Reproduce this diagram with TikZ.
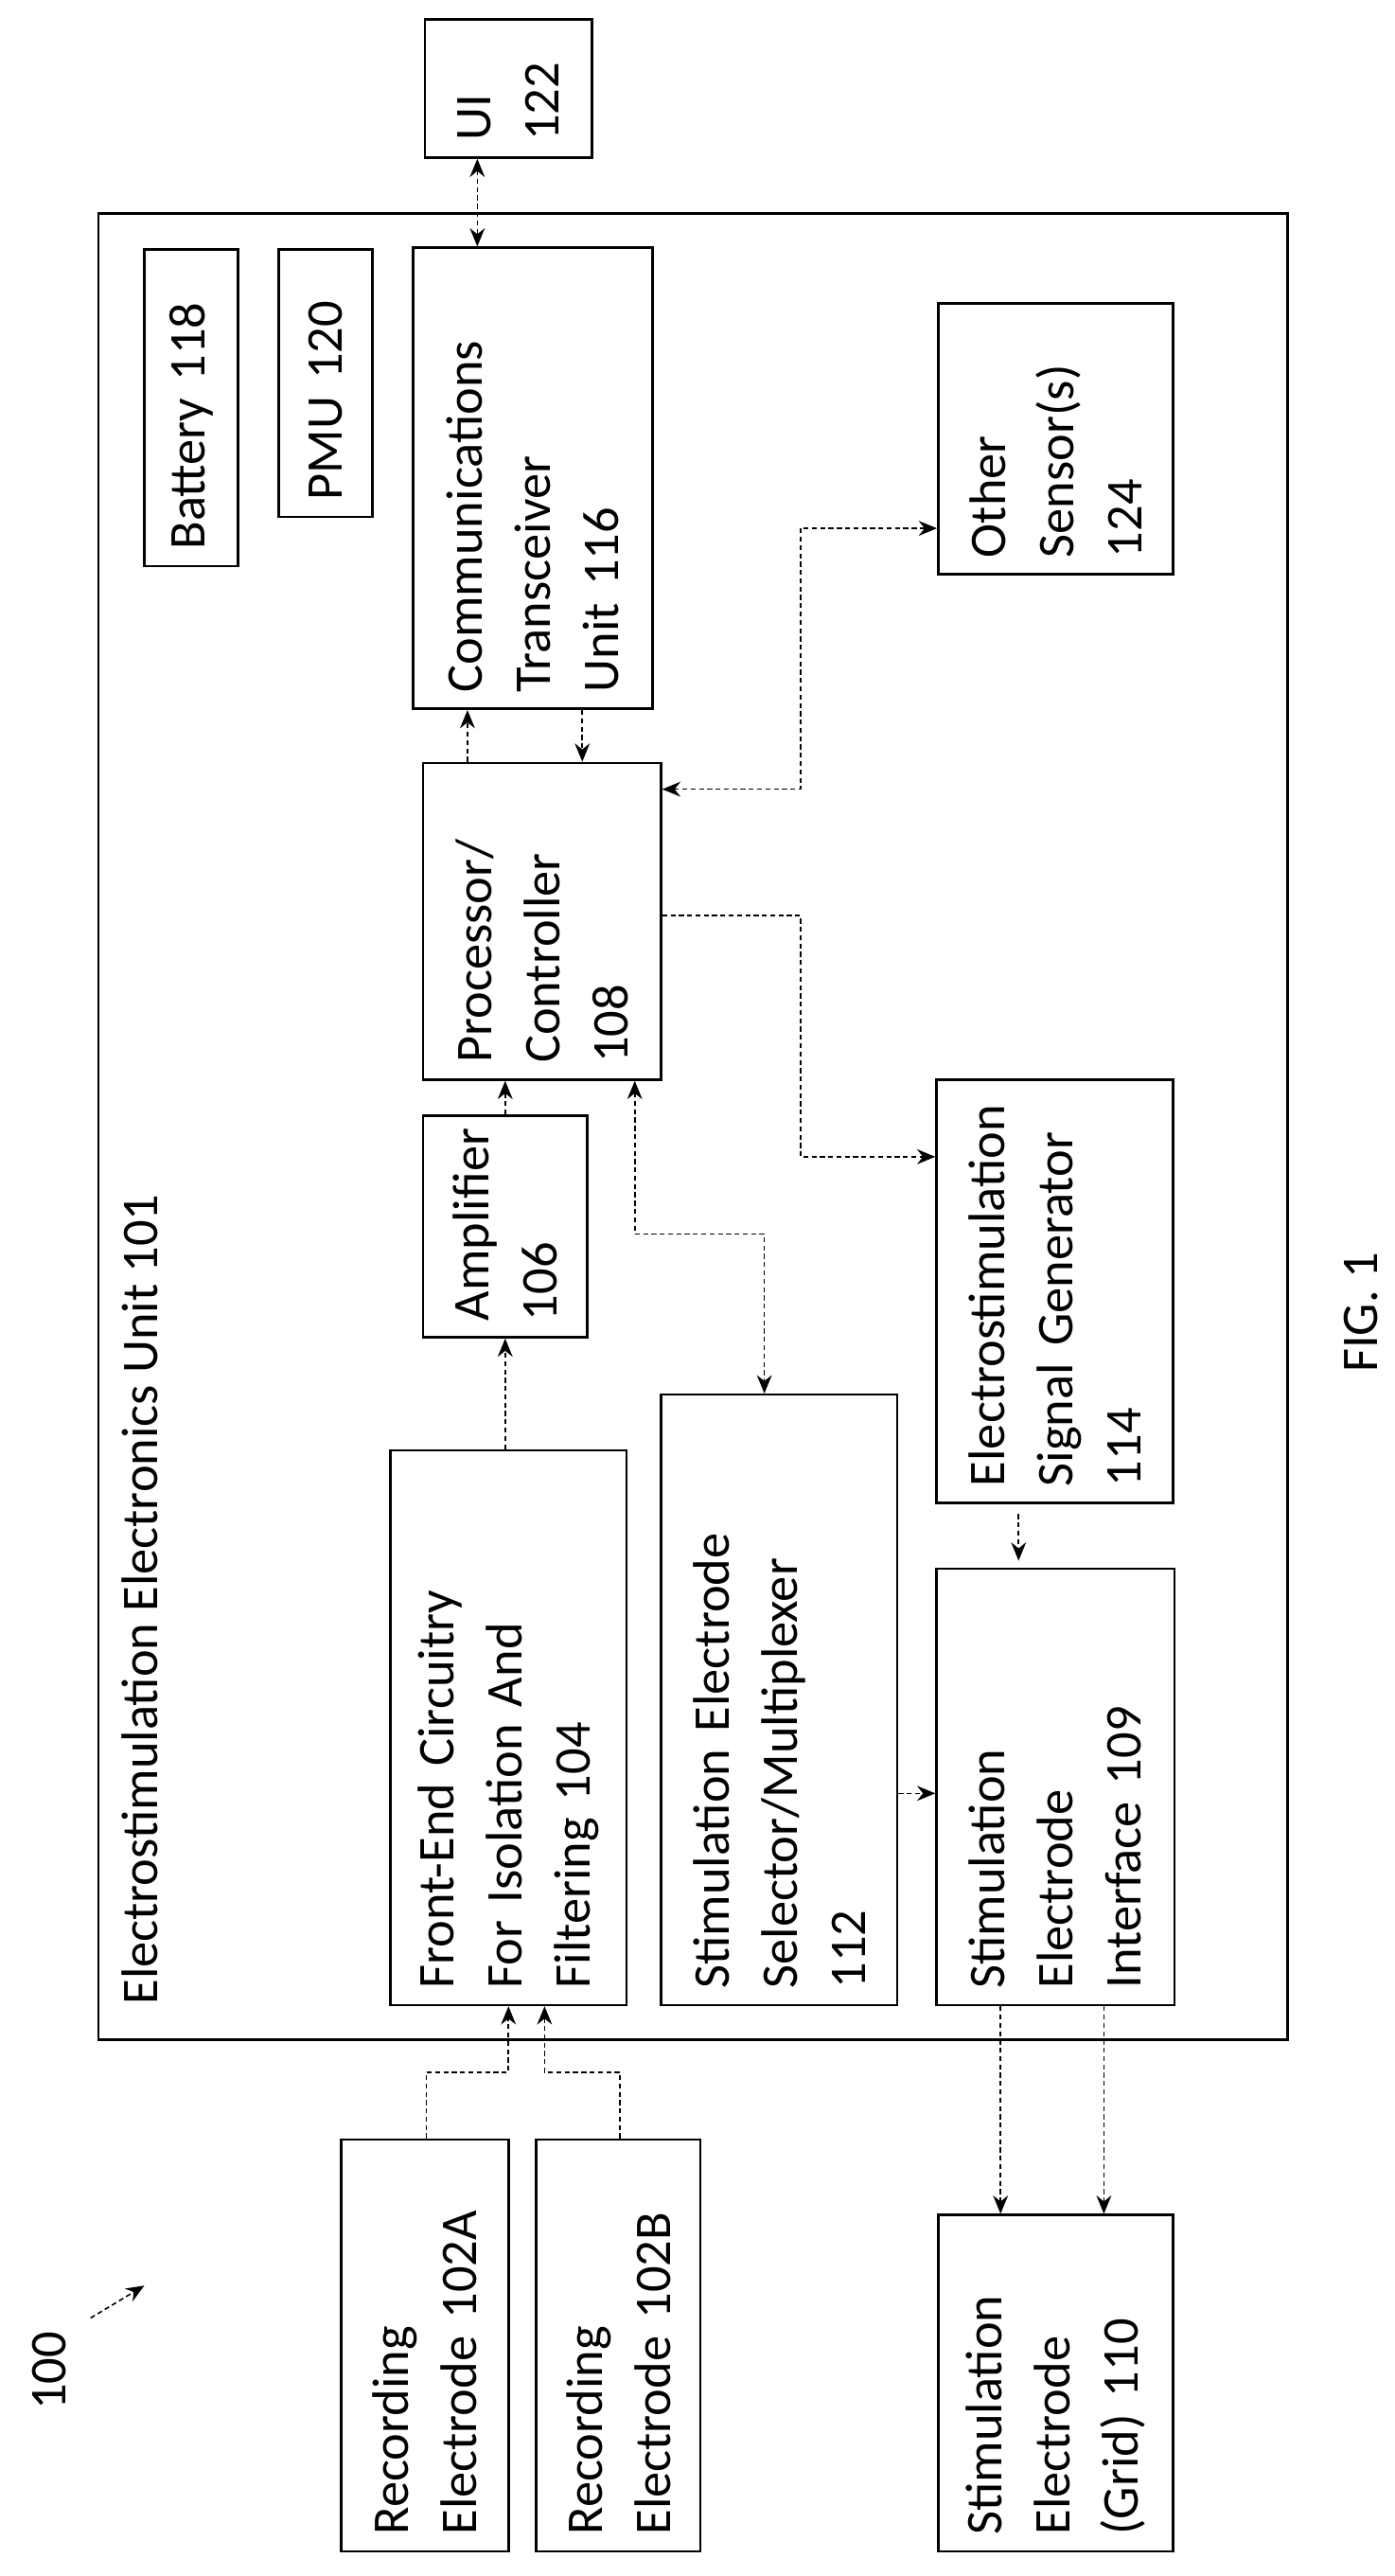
\documentclass[tikz,border=0pt]{standalone}
\usepackage{fontspec}
\setmainfont{Carlito}
\usetikzlibrary{arrows.meta}

\tikzset{
	blk/.style 2 args={draw, line width=1.5pt, rotate=90, align=left, inner sep=0pt,
		minimum width={#2*0.0347cm}, minimum height={#1*0.0347cm},
		text width={#2*0.0347cm-0.7cm}},
	lbl/.style={rotate=90, inner sep=0pt},
	conn/.style={draw, line width=0.9pt, dash pattern=on 3pt off 2pt, >={Stealth[length=11pt,width=9pt]}}
}

\begin{document}
\begin{tikzpicture}[x=0.0347cm, y=-0.0347cm, font=\fontsize{31}{41}\selectfont]
		\useasboundingbox (0,0) rectangle (850,1570);
		% outer unit
		\draw[line width=1.5pt] (60,130) rectangle (785,1243);
		\node[lbl, anchor=west] (title) at (85,1222) {Electrostimulation Electronics Unit 101};
		% blocks
		\node[blk={102}{84}] (ui) at (310,54) {UI\\122};
		\node[blk={57}{193}] (batt) at (116.5,248.5) {Battery 118};
		\node[blk={57}{163}] (pmu) at (198.5,233.5) {PMU 120};
		\node[blk={146}{281}] (comm) at (325,291.5) {Communications\\Transceiver\\Unit 116};
		\node[blk={143}{165}] (sens) at (643.5,267.5) {Other\\Sensor(s)\\124};
		\node[blk={145}{193}] (proc) at (330.5,561.5) {Processor/\\Controller\\108};
		\node[blk={100}{135}] (amp) at (308,747.5) {Amplifier\\106};
		\node[blk={144}{258}] (sig) at (643,787) {Electrostimulation\\Signal Generator\\114};
		\node[blk={144}{338}] (fe) at (310,1053) {Front-End Circuitry\\For Isolation And\\Filtering 104};
		\node[blk={144}{372}] (sel) at (475,1036) {Stimulation Electrode\\Selector/Multiplexer\\112};
		\node[blk={145}{266}] (iface) at (643.5,1089) {Stimulation\\Electrode\\Interface 109};
		\node[blk={102}{251}] (reca) at (259,1429.5) {Recording\\Electrode 102A};
		\node[blk={100}{251}] (recb) at (377,1429.5) {Recording\\Electrode 102B};
		\node[blk={143}{205}] (grid) at (643.5,1452.5) {Stimulation\\Electrode\\(Grid) 110};
		% connectors
		\draw[conn, <->] (291,0 |- ui.west) -- (291,0 |- comm.east);
		\draw[conn, ->] (285,0 |- proc.east) -- (285,0 |- comm.west);
		\draw[conn, ->] (355,0 |- comm.west) -- (355,0 |- proc.east);
		\draw[conn, <->] (0,481 -| proc.south) -- (488,481) -- (488,322) -- (0,322 -| sens.north);
		\draw[conn, ->] (0,558 -| proc.south) -- (488,558) -- (488,705) -- (0,705 -| sig.north);
		\draw[conn, ->] (308,0 |- amp.east) -- (308,0 |- proc.west);
		\draw[conn, <->] (387,0 |- proc.west) -- (387,752) -- (466,752) -- (466,0 |- sel.east);
		\draw[conn, ->] (308,0 |- fe.east) -- (308,0 |- amp.west);
		\draw[conn, ->, shorten <=6pt, shorten >=4pt] (621,0 |- sig.west) -- (621,0 |- iface.east);
		\draw[conn, ->] (0,1093 -| sel.south) -- (0,1093 -| iface.north);
		\draw[conn, ->] (260,0 |- reca.east) -- (260,1263) -- (310,1263) -- (310,0 |- fe.west);
		\draw[conn, ->] (378,0 |- recb.east) -- (378,1263) -- (332,1263) -- (332,0 |- fe.west);
		\draw[conn, ->] (610,0 |- iface.west) -- (610,0 |- grid.east);
		\draw[conn, ->] (673,0 |- iface.west) -- (673,0 |- grid.east);
		% reference label
		\node[lbl] (ref) at (30,1445) {100};
		\coordinate (reftip) at (88,1393);
		\draw[conn, ->, shorten <=6pt] (ref.east) ++(20,-5) -- (reftip);
		\node[lbl] (fig) at (830,800) {FIG. 1};
	\end{tikzpicture}
\end{document}
